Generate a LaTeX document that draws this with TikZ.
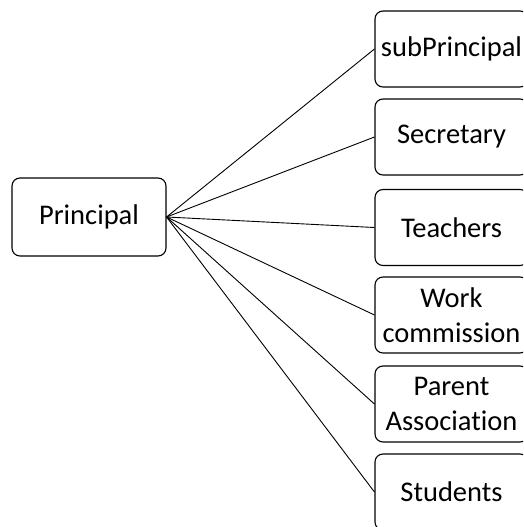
\documentclass[tikz,border=0pt]{standalone}
\usepackage{fontspec}
\setmainfont{Carlito}[Ligatures=NoCommon]
\tikzset{
    box/.style={draw, line width=1.1pt, rounded corners=8pt, inner sep=0pt, align=center,
        font=\fontsize{28.5}{35}\selectfont},
    rbox/.style={box, minimum width=153pt, minimum height=76pt},
    link/.style={line width=0.9pt}
}
\begin{document}
\begin{tikzpicture}[x=1pt, y=-1pt]
    \useasboundingbox (0,0) rectangle (523,527);
    \clip (0,0) rectangle (523,527);

    % Riquadro principale
    \node[box, minimum width=154pt, minimum height=78pt] (principal) at (89,217) {Principal};

    % Riquadri a destra
    \node[rbox] (subprincipal) at (451.5,49) {subPrincipal};
    \node[rbox] (secretary) at (451.5,137) {Secretary};
    \node[rbox] (teachers) at (451.5,227.5) {Teachers};
    \node[rbox] (work) at (451.5,315) {Work\\commission};
    \node[rbox] (parent) at (451.5,404) {Parent\\Association};
    \node[rbox] (students) at (451.5,492) {Students};

    % Collegamenti
    \draw[link] (principal.east) -- (subprincipal.west);
    \draw[link] (principal.east) -- (secretary.west);
    \draw[link] (principal.east) -- (teachers.west);
    \draw[link] (principal.east) -- (work.west);
    \draw[link] (principal.east) -- (parent.west);
    \draw[link] (principal.east) -- (students.west);
\end{tikzpicture}
\end{document}
